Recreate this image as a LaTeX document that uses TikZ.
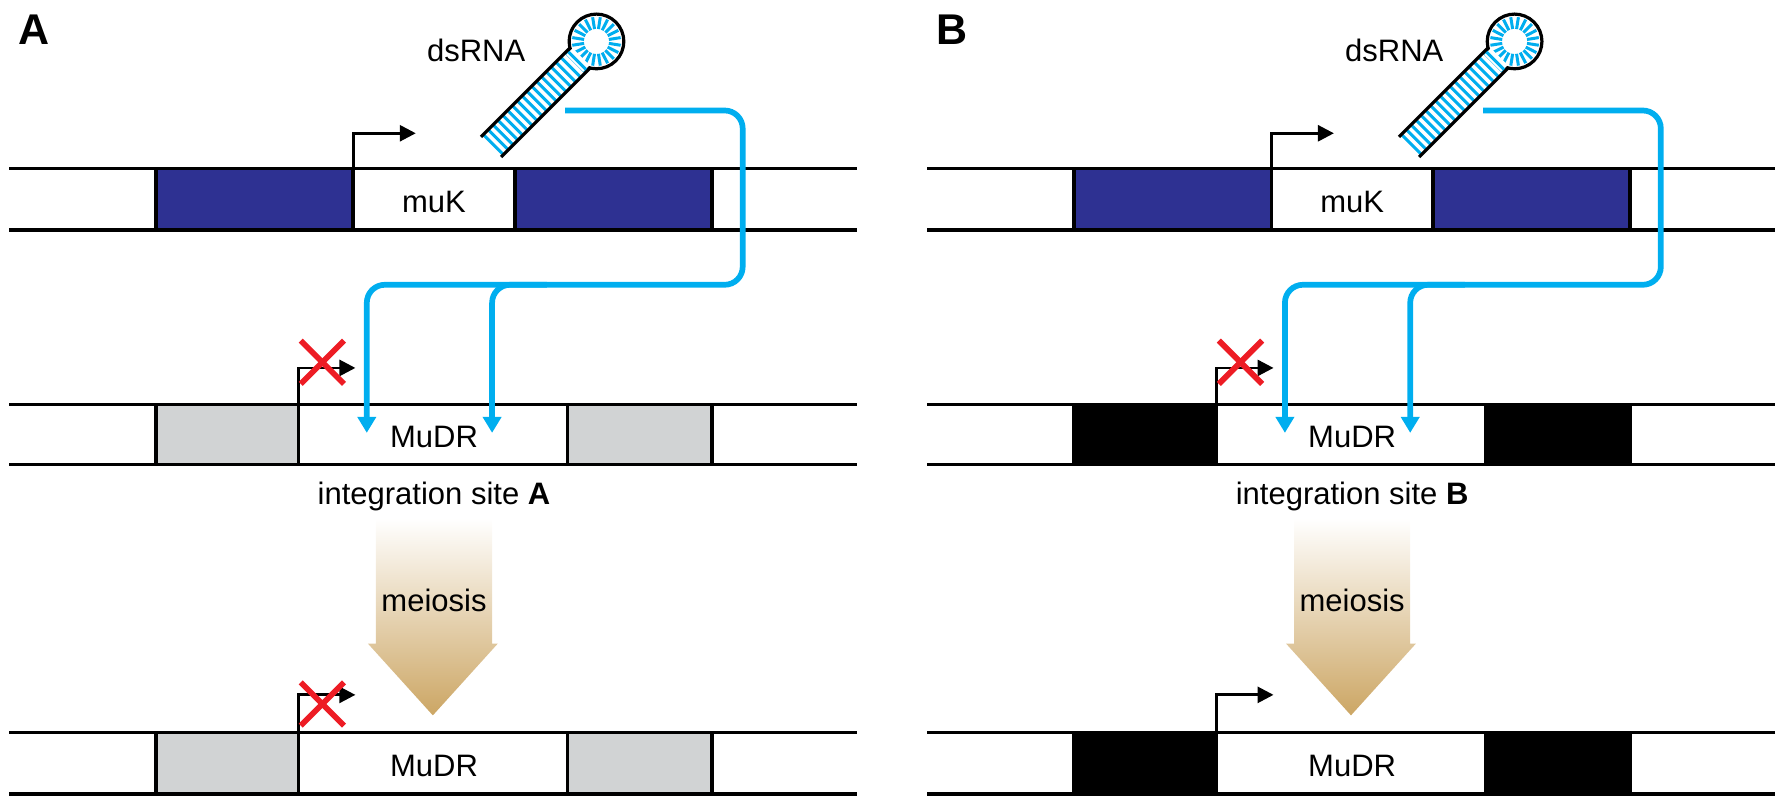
\documentclass[tikz,border=0pt]{standalone}
\usepackage{fontspec}
\setmainfont{Liberation Sans}
\usetikzlibrary{arrows.meta,calc}
\definecolor{dnablue}{HTML}{2E3192}
\definecolor{rnacyan}{HTML}{00AEEF}
\definecolor{siteA}{HTML}{D1D3D4}
\definecolor{xred}{HTML}{ED1C24}
\definecolor{meio}{HTML}{CCA664}
\tikzset{
  strand/.style={line width=3.4pt},
  box/.style={draw, line width=3.4pt},
  prom/.style={line width=2.8pt, -{Triangle[length=16pt,width=16pt]}},
  rna/.style={rnacyan, line width=5.7pt, rounded corners=18pt, -{Triangle[length=16pt,width=18pt]}},
  cross/.style={xred, line width=5.7pt},
  lbl/.style={font=\fontsize{31}{34}\selectfont},
  panel/.style={font=\fontsize{43}{45}\selectfont\bfseries}
}
\newcommand{\knockx}[1]{%
  \draw[cross] ($(#1)+(-19,-19)$) -- ($(#1)+(19,19)$);
  \draw[cross] ($(#1)+(-19,19)$) -- ($(#1)+(19,-19)$);}
\begin{document}
\begin{tikzpicture}[x=1.139pt,y=-1.139pt]
\foreach \dx/\pn/\side/\sidecol/\lastx in {0/A/A/siteA/1, 806/B/B/black/0}{
  \begin{scope}[shift={(\dx,0)}]
  \node[panel] (p\pn) at (30,26) {\pn};
  % top strand
  \draw[box, fill=dnablue] (137,148) rectangle (310,202);
  \draw[box, fill=dnablue] (452,148) rectangle (625,202);
  \draw[strand] (8,148) -- (752,148);
  \draw[strand] (8,202) -- (752,202);
  \node[lbl] (muk\pn) at (381,177) {muK};
  \coordinate (tp\pn) at (310,148);
  \draw[prom] (tp\pn) |- (365,117);
  % middle strand
  \draw[box, fill=\sidecol] (137,355) rectangle (262,408);
  \draw[box, fill=\sidecol] (498,355) rectangle (625,408);
  \draw[strand] (8,355) -- (752,355);
  \draw[strand] (8,408) -- (752,408);
  \node[lbl] (mid\pn) at (381,384) {MuDR};
  \coordinate (mp\pn) at (262,355);
  \draw[prom] (mp\pn) |- (312,323);
  \knockx{283,318}
  \node[lbl] (site\pn) at (381,436) {integration site \textbf{\side}};
  % bottom strand
  \draw[box, fill=\sidecol] (137,643) rectangle (262,697);
  \draw[box, fill=\sidecol] (498,643) rectangle (625,697);
  \draw[strand] (8,643) -- (752,643);
  \draw[strand] (8,697) -- (752,697);
  \node[lbl] (bot\pn) at (381,672) {MuDR};
  \coordinate (bp\pn) at (262,643);
  \draw[prom] (bp\pn) |- (312,610);
  \ifnum\lastx=1 \knockx{283,618}\fi
  % meiosis arrow
  \shade[top color=white, bottom color=meio, middle color=meio!50]
    (330,455) -- (432,455) -- (432,565) -- (437,565) -- (380,628)
    -- (323,565) -- (330,565) -- cycle;
  \node[lbl] (meio\pn) at (381,527) {meiosis};
  % dsRNA hairpin
  \node[lbl] (ds\pn) at (418,44) {dsRNA};
  \begin{scope}[shift={(431,129)}, rotate=45]
    \fill[white] (0,-12) rectangle (112,12);
    \foreach \s in {3,9,...,105}
      \draw[rnacyan, line width=3pt] (\s,-11.5) -- (\s,11.5);
    \draw[line width=3.2pt, fill=white] (131,0) circle (24);
    \foreach \a in {0,18,...,342}
      \draw[rnacyan, line width=3pt] ($(131,0)+(\a:11)$) -- ($(131,0)+(\a:21.5)$);
    \fill[white] (104,-10.5) rectangle (112,10.5);
    \draw[rnacyan, line width=3pt] (107,-11.5) -- (107,11.5);
    \draw[line width=3.2pt] (0,-12.5) -- (111,-12.5);
    \draw[line width=3.2pt] (0,12.5) -- (111,12.5);
  \end{scope}
  \coordinate (rs\pn) at (496,97);
  \coordinate (rk\pn) at (652,250);
  \draw[rna] (rs\pn) -| (rk\pn) -| (322,380);
  \draw[rna] (480,250) -| (432,380);
  \end{scope}
}
\pgfresetboundingbox
\path[use as bounding box] (0,0) rectangle (1560,702.4);
\end{tikzpicture}
\end{document}
